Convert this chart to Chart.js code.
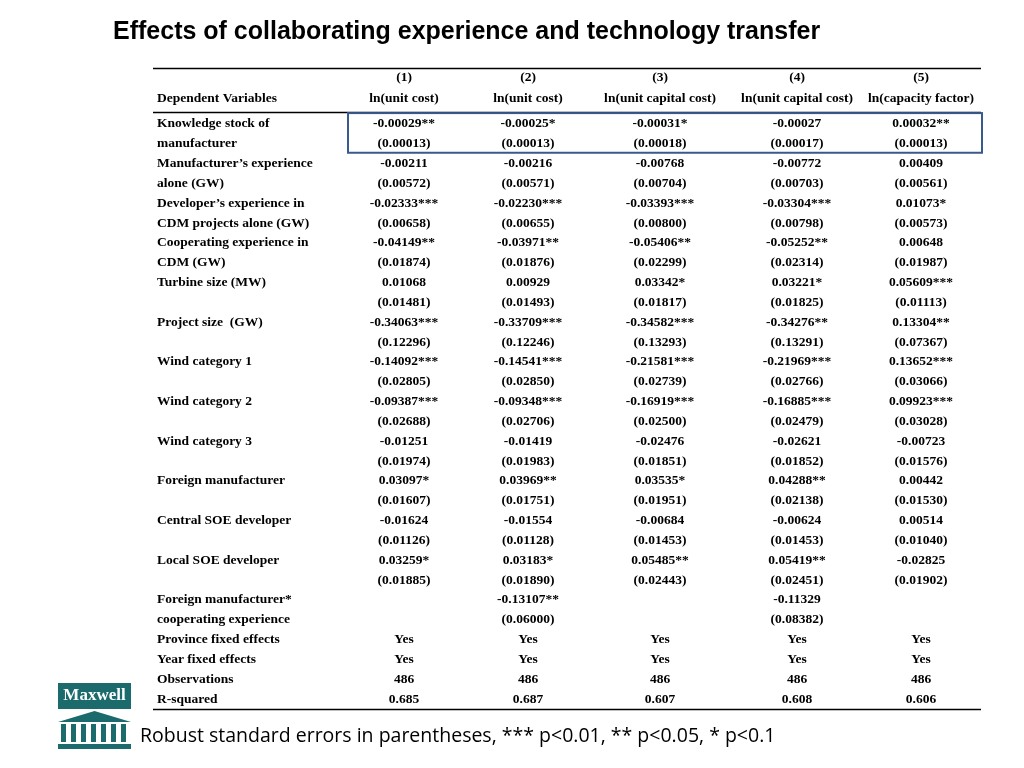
<!DOCTYPE html>
<html>
<head>
<meta charset="utf-8">
<script src="https://cdn.jsdelivr.net/npm/chart.js@4/dist/chart.umd.min.js"></script>
<style>
  html, body { margin: 0; padding: 0; background: #fff; }
  #wrap { width: 1024px; height: 768px; position: relative; }
</style>
</head>
<body>
<div id="wrap"><canvas id="tbl"></canvas></div>
<script>
// --- table data ---
const colHeads = ["(1)", "(2)", "(3)", "(4)", "(5)"];
const depVars = ["ln(unit cost)", "ln(unit cost)", "ln(unit capital cost)", "ln(unit capital cost)", "ln(capacity factor)"];
const colX = [404, 528, 660, 797, 921];

const rowLabels = [
    "Knowledge stock of", "manufacturer", "Manufacturer\u2019s experience", "alone (GW)",
    "Developer\u2019s experience in", "CDM projects alone (GW)", "Cooperating experience in", "CDM (GW)",
    "Turbine size (MW)", "", "Project size  (GW)", "", "Wind category 1", "", "Wind category 2", "",
    "Wind category 3", "", "Foreign manufacturer", "", "Central SOE developer", "",
    "Local SOE developer", "", "Foreign manufacturer*", "cooperating experience",
    "Province fixed effects", "Year fixed effects", "Observations", "R-squared"
];
const col1 = ["-0.00029**", "(0.00013)", "-0.00211", "(0.00572)", "-0.02333***", "(0.00658)", "-0.04149**", "(0.01874)",
    "0.01068", "(0.01481)", "-0.34063***", "(0.12296)", "-0.14092***", "(0.02805)", "-0.09387***", "(0.02688)",
    "-0.01251", "(0.01974)", "0.03097*", "(0.01607)", "-0.01624", "(0.01126)", "0.03259*", "(0.01885)",
    "", "", "Yes", "Yes", "486", "0.685"];
const col2 = ["-0.00025*", "(0.00013)", "-0.00216", "(0.00571)", "-0.02230***", "(0.00655)", "-0.03971**", "(0.01876)",
    "0.00929", "(0.01493)", "-0.33709***", "(0.12246)", "-0.14541***", "(0.02850)", "-0.09348***", "(0.02706)",
    "-0.01419", "(0.01983)", "0.03969**", "(0.01751)", "-0.01554", "(0.01128)", "0.03183*", "(0.01890)",
    "-0.13107**", "(0.06000)", "Yes", "Yes", "486", "0.687"];
const col3 = ["-0.00031*", "(0.00018)", "-0.00768", "(0.00704)", "-0.03393***", "(0.00800)", "-0.05406**", "(0.02299)",
    "0.03342*", "(0.01817)", "-0.34582***", "(0.13293)", "-0.21581***", "(0.02739)", "-0.16919***", "(0.02500)",
    "-0.02476", "(0.01851)", "0.03535*", "(0.01951)", "-0.00684", "(0.01453)", "0.05485**", "(0.02443)",
    "", "", "Yes", "Yes", "486", "0.607"];
const col4 = ["-0.00027", "(0.00017)", "-0.00772", "(0.00703)", "-0.03304***", "(0.00798)", "-0.05252**", "(0.02314)",
    "0.03221*", "(0.01825)", "-0.34276**", "(0.13291)", "-0.21969***", "(0.02766)", "-0.16885***", "(0.02479)",
    "-0.02621", "(0.01852)", "0.04288**", "(0.02138)", "-0.00624", "(0.01453)", "0.05419**", "(0.02451)",
    "-0.11329", "(0.08382)", "Yes", "Yes", "486", "0.608"];
const col5 = ["0.00032**", "(0.00013)", "0.00409", "(0.00561)", "0.01073*", "(0.00573)", "0.00648", "(0.01987)",
    "0.05609***", "(0.01113)", "0.13304**", "(0.07367)", "0.13652***", "(0.03066)", "0.09923***", "(0.03028)",
    "-0.00723", "(0.01576)", "0.00442", "(0.01530)", "0.00514", "(0.01040)", "-0.02825", "(0.01902)",
    "", "", "Yes", "Yes", "486", "0.606"];
const valueCols = [col1, col2, col3, col4, col5];

// row geometry: one unit = one table row
const ROW_H = 19.83;
const FIRST_ROW_PX = 124;
const yMin = -FIRST_ROW_PX / ROW_H;
const yMax = yMin + 768 / ROW_H;

function cellDataset(xPos, rows, texts, align) {
    return {
        data: texts.map((t, i) => ({ x: xPos, y: rows[i] })),
        texts: texts,
        align: align,
        pointRadius: 0,
        pointHoverRadius: 0
    };
}

const bodyRows = rowLabels.map((_, i) => i);
const datasets = [cellDataset(157, bodyRows, rowLabels, "left")];
valueCols.forEach((col, c) => {
    datasets.push(cellDataset(colX[c], bodyRows, col, "center"));
    datasets.push(cellDataset(colX[c], [-2.32, -1.3], [colHeads[c], depVars[c]], "center"));
});
datasets.push(cellDataset(157, [-1.3], ["Dependent Variables"], "left"));

// draws cell text, rules, title, footnote, logo
const tablePlugin = {
    id: "tablePlugin",
    afterDatasetsDraw(chart) {
        const ctx = chart.ctx;
        const xs = chart.scales.x, ys = chart.scales.y;
        ctx.save();
        ctx.fillStyle = "#000";
        ctx.font = "bold 13.5px 'Liberation Serif', 'DejaVu Serif', serif";
        ctx.textBaseline = "middle";
        chart.data.datasets.forEach((ds, di) => {
            const meta = chart.getDatasetMeta(di);
            ctx.textAlign = ds.align;
            meta.data.forEach((el, i) => ctx.fillText(ds.texts[i], el.x, el.y));
        });

        // horizontal rules
        const x0 = xs.getPixelForValue(153), x1 = xs.getPixelForValue(981);
        ctx.strokeStyle = "#000";
        [[-2.8, 1.5], [-0.6, 1.5], [29.5, 1.5]].forEach(([r, w]) => {
            const y = Math.round(ys.getPixelForValue(r)) + 0.5;
            ctx.lineWidth = w;
            ctx.beginPath(); ctx.moveTo(x0, y); ctx.lineTo(x1, y); ctx.stroke();
        });

        // highlight box around first row pair
        ctx.strokeStyle = "#3a5a8c";
        ctx.lineWidth = 2;
        const bx0 = xs.getPixelForValue(348), bx1 = xs.getPixelForValue(982);
        const by0 = ys.getPixelForValue(-0.55), by1 = ys.getPixelForValue(1.45);
        ctx.strokeRect(bx0, by0, bx1 - bx0, by1 - by0);

        // title
        ctx.fillStyle = "#000";
        ctx.textAlign = "left";
        ctx.font = "bold 25px 'Liberation Sans', Arial, sans-serif";
        ctx.fillText("Effects of collaborating experience and technology transfer", 113, 32);

        // footnote
        ctx.font = "19.5px 'Open Sans', 'Liberation Sans', sans-serif";
        ctx.fillText("Robust standard errors in parentheses, *** p<0.01, ** p<0.05, * p<0.1", 140, 736);

        // logo
        ctx.fillStyle = "#1c6b6c";
        ctx.fillRect(58, 683, 73, 26);
        ctx.fillStyle = "#fff";
        ctx.textAlign = "center";
        ctx.font = "bold 17px 'Liberation Serif', serif";
        ctx.fillText("Maxwell", 94.5, 696);
        ctx.fillStyle = "#1c6b6c";
        ctx.beginPath(); ctx.moveTo(58, 722); ctx.lineTo(94.5, 711); ctx.lineTo(131, 722); ctx.closePath(); ctx.fill();
        for (let k = 0; k < 7; k++) ctx.fillRect(61 + k * 10, 724, 5, 18);
        ctx.fillRect(58, 744, 73, 5);
        ctx.restore();
    }
};

new Chart(document.getElementById("tbl"), {
    type: "scatter",
    data: { datasets: datasets },
    options: {
        responsive: true,
        maintainAspectRatio: false,
        animation: false,
        events: [],
        layout: { padding: 0 },
        plugins: { legend: { display: false }, tooltip: { enabled: false } },
        scales: {
            x: { type: "linear", display: false, min: 0, max: 1024 },
            y: { type: "linear", display: false, reverse: true, min: yMin, max: yMax }
        }
    },
    plugins: [tablePlugin]
});
</script>
</body>
</html>
